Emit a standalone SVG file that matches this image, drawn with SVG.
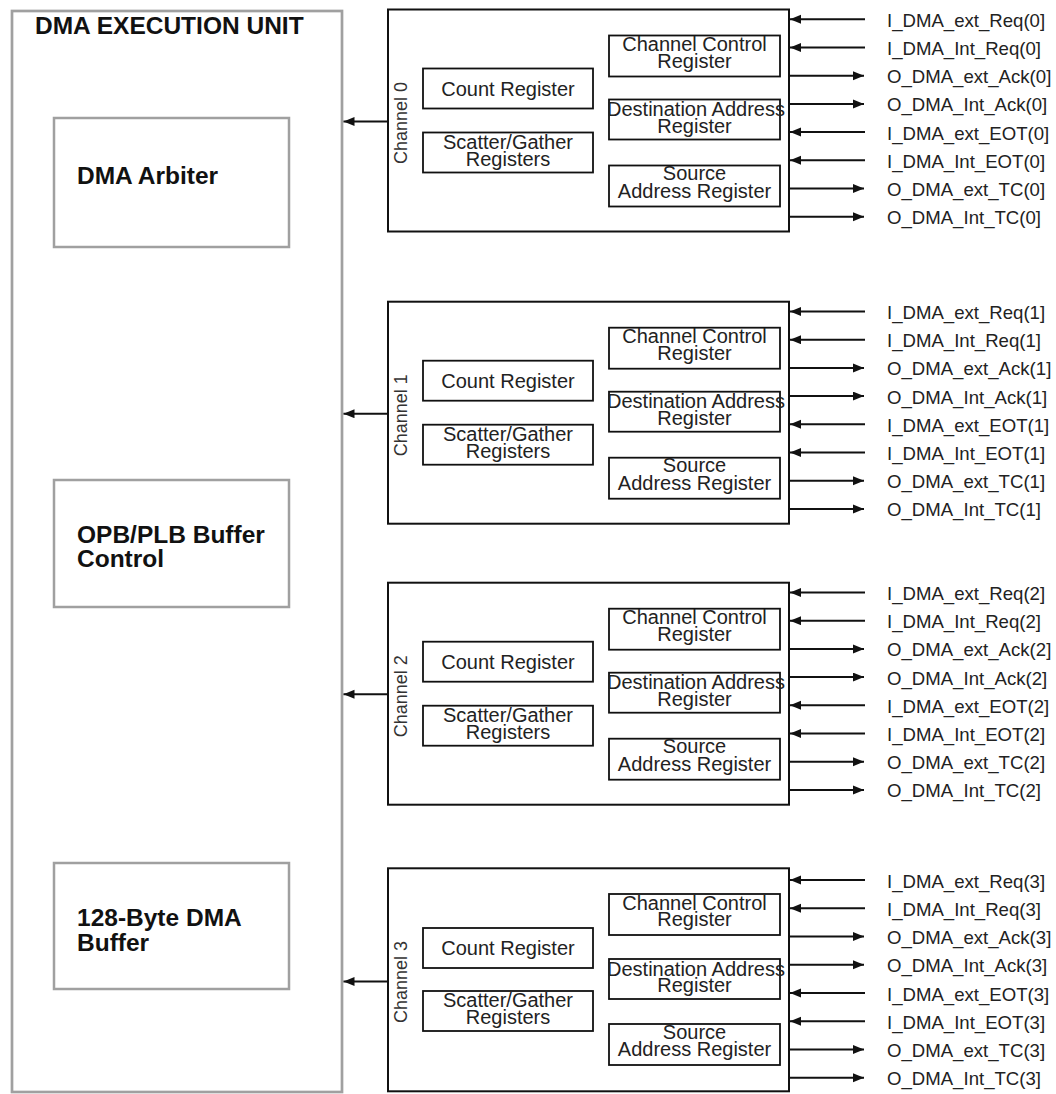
<svg xmlns="http://www.w3.org/2000/svg" width="1056" height="1094" viewBox="0 0 1056 1094">
<defs>
<style>
.unit{fill:#fff;stroke:#a0a0a0;stroke-width:2.7}
.blk{fill:#fff;stroke:#a0a0a0;stroke-width:2.5}
.big{font-family:"Liberation Sans",Arial,sans-serif;font-size:24.5px;font-weight:bold;fill:#111}
.ch{fill:#fff;stroke:#111;stroke-width:2}
.reg{fill:#fff;stroke:#111;stroke-width:1.8}
.rt{font-family:"Liberation Sans",Arial,sans-serif;font-size:20px;fill:#222;text-anchor:middle}
.cl{font-family:"Liberation Sans",Arial,sans-serif;font-size:18px;fill:#333;text-anchor:middle}
.sig{font-family:"Liberation Sans",Arial,sans-serif;font-size:18.6px;fill:#222}
.w{stroke:#111;stroke-width:2;fill:none;marker-end:url(#ah)}
</style>
<marker id="ah" markerUnits="userSpaceOnUse" markerWidth="12" markerHeight="10" refX="11" refY="4.5" orient="auto" viewBox="0 0 12 10">
<path d="M0,0 L11,4.5 L0,9 z" fill="#111"/>
</marker>
</defs>
<rect width="1056" height="1094" fill="#fff"/>

<g id="dma-execution-unit">
<rect class="unit" x="12" y="11" width="330" height="1081"/>
<text class="big" x="35" y="34">DMA EXECUTION UNIT</text>
</g>
<g id="dma-arbiter">
<rect class="blk" x="54" y="118" width="235" height="129"/>
<text class="big" x="77" y="183.5">DMA Arbiter</text>
</g>
<g id="buffer-control">
<rect class="blk" x="54" y="480" width="235" height="127"/>
<text class="big" x="77" y="542.7">OPB/PLB Buffer</text>
<text class="big" x="77" y="566.7">Control</text>
</g>
<g id="dma-buffer">
<rect class="blk" x="54" y="863" width="235" height="126"/>
<text class="big" x="77" y="926">128-Byte DMA</text>
<text class="big" x="77" y="950.5">Buffer</text>
</g>

<g id="channel0">
<rect class="ch" x="388" y="9.5" width="401" height="222"/>
<text class="cl" transform="translate(407,123) rotate(-90)">Channel 0</text>
<rect class="reg" x="423" y="68.5" width="170" height="40"/>
<text class="rt" x="508" y="95.5">Count Register</text>
<rect class="reg" x="423" y="132.5" width="170" height="40"/>
<text class="rt" x="508" y="148.5">Scatter/Gather</text>
<text class="rt" x="508" y="165.5">Registers</text>
<rect class="reg" x="609" y="35.5" width="171" height="41"/>
<text class="rt" x="694.5" y="51">Channel Control</text>
<text class="rt" x="694.5" y="67.5">Register</text>
<rect class="reg" x="609" y="99.5" width="171" height="40"/>
<text class="rt" x="696" y="116" textLength="178" lengthAdjust="spacingAndGlyphs">Destination Address</text>
<text class="rt" x="694.5" y="132.5">Register</text>
<rect class="reg" x="609" y="165.5" width="171" height="41"/>
<text class="rt" x="694.5" y="180.2">Source</text>
<text class="rt" x="694.5" y="197.5">Address Register</text>
</g>

<g id="channel1">
<rect class="ch" x="388" y="301.7" width="401" height="222"/>
<text class="cl" transform="translate(407,415.2) rotate(-90)">Channel 1</text>
<rect class="reg" x="423" y="360.7" width="170" height="40"/>
<text class="rt" x="508" y="387.7">Count Register</text>
<rect class="reg" x="423" y="424.7" width="170" height="40"/>
<text class="rt" x="508" y="440.7">Scatter/Gather</text>
<text class="rt" x="508" y="457.7">Registers</text>
<rect class="reg" x="609" y="327.7" width="171" height="41"/>
<text class="rt" x="694.5" y="343.2">Channel Control</text>
<text class="rt" x="694.5" y="359.7">Register</text>
<rect class="reg" x="609" y="391.7" width="171" height="40"/>
<text class="rt" x="696" y="408.2" textLength="178" lengthAdjust="spacingAndGlyphs">Destination Address</text>
<text class="rt" x="694.5" y="424.7">Register</text>
<rect class="reg" x="609" y="457.7" width="171" height="41"/>
<text class="rt" x="694.5" y="472.4">Source</text>
<text class="rt" x="694.5" y="489.7">Address Register</text>
</g>

<g id="channel2">
<rect class="ch" x="388" y="582.7" width="401" height="222"/>
<text class="cl" transform="translate(407,696.2) rotate(-90)">Channel 2</text>
<rect class="reg" x="423" y="641.7" width="170" height="40"/>
<text class="rt" x="508" y="668.7">Count Register</text>
<rect class="reg" x="423" y="705.7" width="170" height="40"/>
<text class="rt" x="508" y="721.7">Scatter/Gather</text>
<text class="rt" x="508" y="738.7">Registers</text>
<rect class="reg" x="609" y="608.7" width="171" height="41"/>
<text class="rt" x="694.5" y="624.2">Channel Control</text>
<text class="rt" x="694.5" y="640.7">Register</text>
<rect class="reg" x="609" y="672.7" width="171" height="40"/>
<text class="rt" x="696" y="689.2" textLength="178" lengthAdjust="spacingAndGlyphs">Destination Address</text>
<text class="rt" x="694.5" y="705.7">Register</text>
<rect class="reg" x="609" y="738.7" width="171" height="41"/>
<text class="rt" x="694.5" y="753.4">Source</text>
<text class="rt" x="694.5" y="770.7">Address Register</text>
</g>

<g id="channel3">
<rect class="ch" x="388" y="868.3" width="401" height="223"/>
<text class="cl" transform="translate(407,982) rotate(-90)">Channel 3</text>
<rect class="reg" x="423" y="928" width="170" height="40"/>
<text class="rt" x="508" y="955">Count Register</text>
<rect class="reg" x="423" y="991" width="170" height="40"/>
<text class="rt" x="508" y="1007">Scatter/Gather</text>
<text class="rt" x="508" y="1024">Registers</text>
<rect class="reg" x="609" y="894" width="171" height="41"/>
<text class="rt" x="694.5" y="909.5">Channel Control</text>
<text class="rt" x="694.5" y="926">Register</text>
<rect class="reg" x="609" y="959" width="171" height="40"/>
<text class="rt" x="696" y="975.5" textLength="178" lengthAdjust="spacingAndGlyphs">Destination Address</text>
<text class="rt" x="694.5" y="992">Register</text>
<rect class="reg" x="609" y="1024" width="171" height="41"/>
<text class="rt" x="694.5" y="1038.7">Source</text>
<text class="rt" x="694.5" y="1056">Address Register</text>
</g>

<g id="connectors">
<line class="w" x1="388" y1="121.5" x2="343.5" y2="121.5"/>
<line class="w" x1="388" y1="413.7" x2="343.5" y2="413.7"/>
<line class="w" x1="388" y1="694.2" x2="343.5" y2="694.2"/>
<line class="w" x1="388" y1="981.5" x2="343.5" y2="981.5"/>

<line class="w" x1="865" y1="19.3" x2="790" y2="19.3"/>
<line class="w" x1="865" y1="47.5" x2="790" y2="47.5"/>
<line class="w" x1="789" y1="75.7" x2="864" y2="75.7"/>
<line class="w" x1="789" y1="103.9" x2="864" y2="103.9"/>
<line class="w" x1="865" y1="132.1" x2="790" y2="132.1"/>
<line class="w" x1="865" y1="160.3" x2="790" y2="160.3"/>
<line class="w" x1="789" y1="188.5" x2="864" y2="188.5"/>
<line class="w" x1="789" y1="216.7" x2="864" y2="216.7"/>

<line class="w" x1="865" y1="311.5" x2="790" y2="311.5"/>
<line class="w" x1="865" y1="339.7" x2="790" y2="339.7"/>
<line class="w" x1="789" y1="367.9" x2="864" y2="367.9"/>
<line class="w" x1="789" y1="396.1" x2="864" y2="396.1"/>
<line class="w" x1="865" y1="424.3" x2="790" y2="424.3"/>
<line class="w" x1="865" y1="452.5" x2="790" y2="452.5"/>
<line class="w" x1="789" y1="480.7" x2="864" y2="480.7"/>
<line class="w" x1="789" y1="508.9" x2="864" y2="508.9"/>

<line class="w" x1="865" y1="592.5" x2="790" y2="592.5"/>
<line class="w" x1="865" y1="620.7" x2="790" y2="620.7"/>
<line class="w" x1="789" y1="648.9" x2="864" y2="648.9"/>
<line class="w" x1="789" y1="677.1" x2="864" y2="677.1"/>
<line class="w" x1="865" y1="705.3" x2="790" y2="705.3"/>
<line class="w" x1="865" y1="733.5" x2="790" y2="733.5"/>
<line class="w" x1="789" y1="761.7" x2="864" y2="761.7"/>
<line class="w" x1="789" y1="789.9" x2="864" y2="789.9"/>

<line class="w" x1="865" y1="880" x2="790" y2="880"/>
<line class="w" x1="865" y1="908.3" x2="790" y2="908.3"/>
<line class="w" x1="789" y1="936.5" x2="864" y2="936.5"/>
<line class="w" x1="789" y1="964.8" x2="864" y2="964.8"/>
<line class="w" x1="865" y1="993" x2="790" y2="993"/>
<line class="w" x1="865" y1="1021.3" x2="790" y2="1021.3"/>
<line class="w" x1="789" y1="1049.5" x2="864" y2="1049.5"/>
<line class="w" x1="789" y1="1077.8" x2="864" y2="1077.8"/>
</g>

<g id="signal-labels">
<text class="sig" x="887" y="26.8">I_DMA_ext_Req(0]</text>
<text class="sig" x="887" y="55">I_DMA_Int_Req(0]</text>
<text class="sig" x="887" y="83.2">O_DMA_ext_Ack(0]</text>
<text class="sig" x="887" y="111.4">O_DMA_Int_Ack(0]</text>
<text class="sig" x="887" y="139.6">I_DMA_ext_EOT(0]</text>
<text class="sig" x="887" y="167.8">I_DMA_Int_EOT(0]</text>
<text class="sig" x="887" y="196">O_DMA_ext_TC(0]</text>
<text class="sig" x="887" y="224.2">O_DMA_Int_TC(0]</text>

<text class="sig" x="887" y="319">I_DMA_ext_Req(1]</text>
<text class="sig" x="887" y="347.2">I_DMA_Int_Req(1]</text>
<text class="sig" x="887" y="375.4">O_DMA_ext_Ack(1]</text>
<text class="sig" x="887" y="403.6">O_DMA_Int_Ack(1]</text>
<text class="sig" x="887" y="431.8">I_DMA_ext_EOT(1]</text>
<text class="sig" x="887" y="460">I_DMA_Int_EOT(1]</text>
<text class="sig" x="887" y="488.2">O_DMA_ext_TC(1]</text>
<text class="sig" x="887" y="516.4">O_DMA_Int_TC(1]</text>

<text class="sig" x="887" y="600">I_DMA_ext_Req(2]</text>
<text class="sig" x="887" y="628.2">I_DMA_Int_Req(2]</text>
<text class="sig" x="887" y="656.4">O_DMA_ext_Ack(2]</text>
<text class="sig" x="887" y="684.6">O_DMA_Int_Ack(2]</text>
<text class="sig" x="887" y="712.8">I_DMA_ext_EOT(2]</text>
<text class="sig" x="887" y="741">I_DMA_Int_EOT(2]</text>
<text class="sig" x="887" y="769.2">O_DMA_ext_TC(2]</text>
<text class="sig" x="887" y="797.4">O_DMA_Int_TC(2]</text>

<text class="sig" x="887" y="887.5">I_DMA_ext_Req(3]</text>
<text class="sig" x="887" y="915.8">I_DMA_Int_Req(3]</text>
<text class="sig" x="887" y="944">O_DMA_ext_Ack(3]</text>
<text class="sig" x="887" y="972.3">O_DMA_Int_Ack(3]</text>
<text class="sig" x="887" y="1000.5">I_DMA_ext_EOT(3]</text>
<text class="sig" x="887" y="1028.8">I_DMA_Int_EOT(3]</text>
<text class="sig" x="887" y="1057">O_DMA_ext_TC(3]</text>
<text class="sig" x="887" y="1085.3">O_DMA_Int_TC(3]</text>
</g>
</svg>
